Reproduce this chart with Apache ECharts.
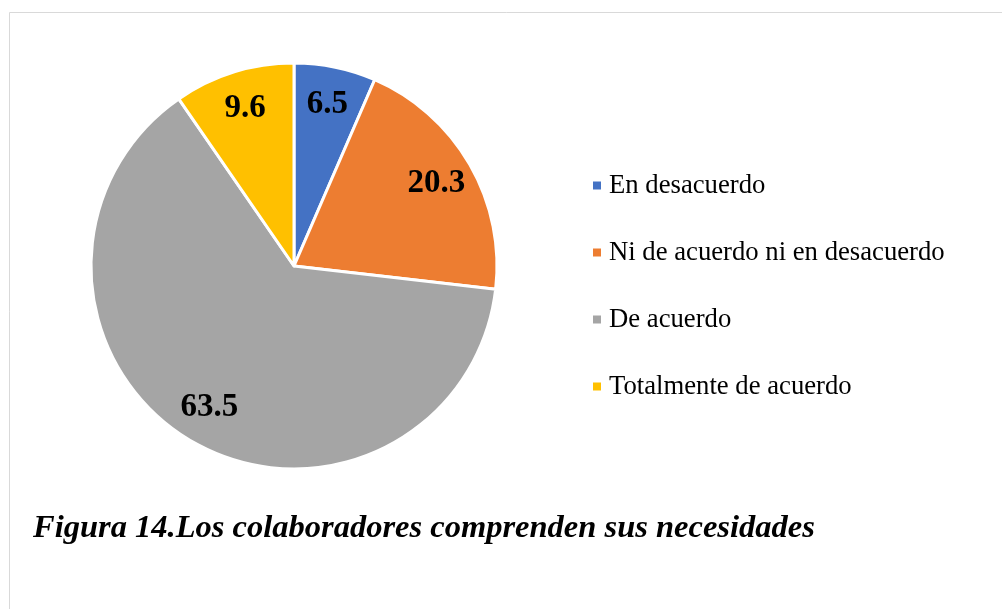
<!DOCTYPE html>
<html>
<head>
<meta charset="utf-8">
<script src="https://cdn.jsdelivr.net/npm/echarts@6/dist/echarts.min.js"></script>
<style>
	html, body { margin: 0; padding: 0; background: #ffffff; }
	#pie_chart { width: 1002px; height: 609px; }
</style>
</head>
<body>
<div id="pie_chart"></div>
<script>
	// answer categories and their percentages
	var categories = ['En desacuerdo', 'Ni de acuerdo ni en desacuerdo', 'De acuerdo', 'Totalmente de acuerdo'];
	var values = [6.5, 20.3, 63.5, 9.6];
	var colors = ['#4472C4', '#ED7D31', '#A5A5A5', '#FFC000'];
	var titleText = 'Figura 14.Los colaboradores comprenden sus necesidades';

	var pieData = categories.map(function (name, i) {
		return { name: name, value: values[i] };
	});

	var chart = echarts.init(document.getElementById('pie_chart'), null, { renderer: 'canvas' });
	var fontFamily = '"Liberation Serif", "Times New Roman", serif';

	var option = {
		backgroundColor: '#ffffff',
		animation: false,
		color: colors,
		title: {
			text: titleText,
			left: 28,
			top: 507,
			textStyle: {
				fontFamily: fontFamily,
				fontStyle: 'italic',
				fontWeight: 'bold',
				fontSize: 32.5,
				color: '#000000'
			}
		},
		legend: {
			orient: 'vertical',
			left: 591,
			top: 172,
			padding: 0,
			itemWidth: 10,
			itemHeight: 10,
			itemGap: 40,
			icon: 'rect',
			selectedMode: false,
			textStyle: {
				fontFamily: fontFamily,
				fontSize: 26.7,
				color: '#000000',
				padding: [0, 0, 0, 2]
			},
			data: categories
		},
		graphic: [{
			type: 'rect',
			z: -1,
			silent: true,
			shape: { x: 9.5, y: 12.5, width: 1100, height: 700 },
			style: { fill: 'none', stroke: '#d9d9d9', lineWidth: 1 }
		}],
		series: [
			{
				name: 'pie',
				type: 'pie',
				center: [294, 266],
				radius: [0, 203],
				startAngle: 90,
				clockwise: true,
				silent: true,
				itemStyle: { borderColor: '#ffffff', borderWidth: 3 },
				label: { show: false },
				labelLine: { show: false },
				data: pieData
			},
			{
				// transparent ring only to place the value labels near the outer edge
				name: 'labels',
				type: 'pie',
				center: [294, 266],
				radius: [120, 203],
				startAngle: 90,
				clockwise: true,
				silent: true,
				itemStyle: { color: 'rgba(0,0,0,0)', borderWidth: 0 },
				label: {
					show: true,
					position: 'inside',
					formatter: function (p) { return p.value.toFixed(1); },
					fontFamily: fontFamily,
					fontWeight: 'bold',
					fontSize: 33,
					color: '#000000'
				},
				labelLine: { show: false },
				data: pieData
			}
		]
	};

	chart.setOption(option);
</script>
</body>
</html>
